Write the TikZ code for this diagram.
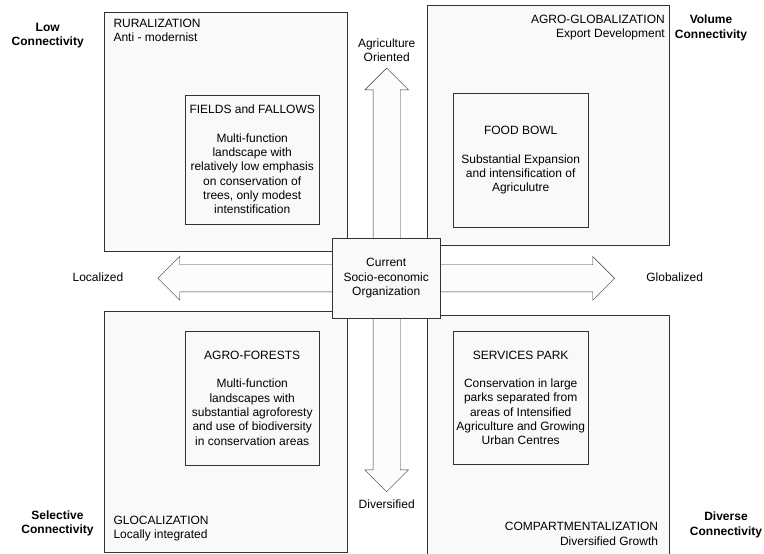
\documentclass[tikz,border=0pt]{standalone}
\usepackage{fontspec}
\setmainfont{Liberation Sans}
\usepackage{tikz}
\usetikzlibrary{shapes.arrows}
\pgfdeclarelayer{bg}
\pgfsetlayers{bg,main}
\tikzset{
        quad/.style={draw=black!80, fill=gray!5, anchor=north west, inner sep=0pt},
        inbox/.style={draw=black!80, fill=gray!5, align=center, inner sep=0pt},
        axisarrow/.style={double arrow, draw=black!80, fill=gray!2,
                double arrow head extend=8.3pt},
        plain/.style={inner sep=0pt},
        conn/.style={inner sep=0pt, align=center, font=\fontsize{12}{14.3}\selectfont\bfseries}
}
\begin{document}
\begin{tikzpicture}[x=1pt, y=-1pt, font=\fontsize{12}{14.3}\selectfont]
        \useasboundingbox (0,0) rectangle (764,554);
        \node (rural) [quad, minimum width=242.4pt, minimum height=238.7pt] at (104.3, 12) {};
        \node (agroglob) [quad, minimum width=242pt, minimum height=240pt] at (426.7, 5) {};
        \node (glocal) [quad, minimum width=242.4pt, minimum height=241.3pt] at (104.3, 311) {};
        \node (compart) [quad, minimum width=242pt, minimum height=242pt] at (426.7, 315) {};
        \node (fields) [inbox, minimum width=134.3pt, minimum height=129pt] at (252.2, 159.5) {FIELDS and FALLOWS\\[14pt]Multi-function\\landscape with\\relatively low emphasis\\on conservation of\\trees, only modest\\intenstification};
        \node (foodbowl) [inbox, minimum width=134.7pt, minimum height=134pt] at (520.7, 160.3) {FOOD BOWL\\[14pt]Substantial Expansion\\and intensification of\\Agriculutre};
        \node (agroforest) [inbox, minimum width=134.3pt, minimum height=133.3pt] at (252.2, 398.3) {AGRO-FORESTS\\[14pt]Multi-function\\landscapes with\\substantial agroforesty\\and use of biodiversity\\in conservation areas};
        \node (services) [inbox, minimum width=134.7pt, minimum height=132.3pt] at (520.7, 397.8) {SERVICES PARK\\[14pt]Conservation in large\\parks separated from\\areas of Intensified\\Agriculture and Growing\\Urban Centres};
        \node (current) [inbox, minimum width=107.7pt, minimum height=80pt] at (386.2, 278.3) {Current\\Socio-economic\\Organization};
        \begin{pgfonlayer}{bg}
                \node (horiz) [axisarrow, inner xsep=0pt, inner ysep=13.35pt, minimum height=456.7pt] at (current.center) {};
                \node (vert) [axisarrow, inner xsep=13.35pt, inner ysep=0pt, minimum height=423.7pt, shape border rotate=90] at (386.7, 279.9) {};
        \end{pgfonlayer}
        \node (ruraltxt) [plain, anchor=north west, align=left] at (113.3, 18.6) {RURALIZATION\\Anti - modernist};
        \node (agroglobtxt) [plain, anchor=north east, align=right] at (665, 15) {AGRO-GLOBALIZATION\\Export Development};
        \node (glocaltxt) [plain, anchor=north west, align=left] at (113.3, 516) {GLOCALIZATION\\Locally integrated};
        \node (comparttxt) [plain, anchor=north east, align=right] at (658.3, 522.3) {COMPARTMENTALIZATION\\Diversified Growth};
        \node (low) [conn, anchor=north] at (47.7, 23) {Low\\Connectivity};
        \node (volume) [conn, anchor=north] at (711, 15) {Volume\\Connectivity};
        \node (selective) [conn, anchor=north] at (57.5, 510.7) {Selective\\Connectivity};
        \node (diverse) [conn, anchor=north] at (726, 512) {Diverse\\Connectivity};
        \node (agri) [plain, align=center] at (386.7, 50) {Agriculture\\Oriented};
        \node (divers) [plain] at (386.7, 504.6) {Diversified};
        \node (local) [plain] at (98, 277.5) {Localized};
        \node (global) [plain] at (674.7, 277.5) {Globalized};
\end{tikzpicture}
\end{document}
